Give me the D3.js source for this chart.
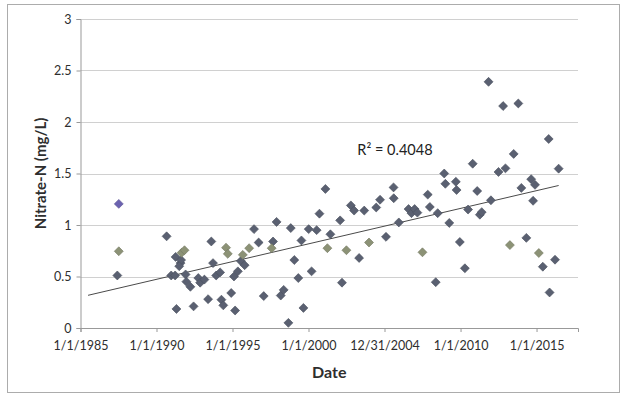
<!DOCTYPE html>
<html>
<head>
<meta charset="utf-8">
<script src="https://cdn.jsdelivr.net/npm/d3@7"></script>
<style>
  body { margin: 0; background: #fff; }
  svg { display: block; }
</style>
</head>
<body>
<div id="chart"></div>
<script>
// sampling dates and nitrate values
const mainDates = [
  '1987-06-05', '1990-09-01', '1990-12-20', '1991-03-25', '1991-04-25', '1991-04-05',
  '1991-08-01', '1991-08-15', '1991-07-01', '1991-12-01', '1991-12-20', '1992-03-25',
  '1992-06-10', '1992-10-01', '1992-11-15', '1993-02-25', '1993-05-25', '1993-08-10',
  '1993-09-20', '1993-12-05', '1994-03-10', '1994-04-10', '1994-05-25', '1994-12-01',
  '1995-03-05', '1995-02-05', '1995-05-10', '1995-07-20', '1995-10-20', '1996-06-01',
  '1996-09-20', '1997-01-20', '1997-09-01', '1997-11-25', '1998-03-05', '1998-05-15',
  '1998-09-05', '1998-11-01', '1999-01-25', '1999-05-01', '1999-07-15', '1999-09-01',
  '2000-01-05', '2000-03-15', '2000-07-15', '2000-09-20', '2001-02-10', '2001-06-10',
  '2002-01-30', '2002-03-15', '2002-10-15', '2003-01-01', '2003-05-01', '2003-09-01',
  '2004-06-15', '2004-09-15', '2005-02-05', '2005-08-05', '2005-08-10', '2005-12-10',
  '2006-08-01', '2006-10-10', '2006-12-25', '2007-03-01', '2007-11-05', '2007-12-25',
  '2008-05-15', '2008-07-01', '2008-12-05', '2009-01-01', '2009-04-05', '2009-09-10',
  '2009-09-28', '2009-12-15', '2010-04-15', '2010-07-01', '2010-10-20', '2011-02-05',
  '2011-04-10', '2011-05-25', '2011-11-05', '2012-01-01', '2012-07-01', '2012-10-20',
  '2012-12-15', '2013-07-01', '2013-10-20', '2014-01-01', '2014-05-01', '2014-08-25',
  '2014-10-10', '2014-11-25', '2015-06-01', '2015-10-20', '2015-11-10', '2016-03-20',
  '2016-06-15'
];
const mainValues = [
  0.51, 0.89, 0.51, 0.51, 0.185, 0.69,
  0.63, 0.66, 0.60, 0.52, 0.45, 0.40,
  0.21, 0.485, 0.44, 0.47, 0.28, 0.84,
  0.63, 0.51, 0.54, 0.275, 0.22, 0.34,
  0.17, 0.50, 0.55, 0.65, 0.61, 0.96,
  0.83, 0.31, 0.84, 1.03, 0.315, 0.37,
  0.05, 0.97, 0.66, 0.485, 0.85, 0.195,
  0.96, 0.55, 0.95, 1.11, 1.35, 0.91,
  1.045, 0.44, 1.19, 1.14, 0.68, 1.14,
  1.17, 1.245, 0.885, 1.365, 1.26, 1.025,
  1.155, 1.115, 1.155, 1.12, 1.295, 1.175,
  0.445, 1.115, 1.50, 1.40, 1.02, 1.42,
  1.34, 0.835, 0.58, 1.15, 1.595, 1.33,
  1.10, 1.125, 2.39, 1.24, 1.515, 2.155,
  1.55, 1.69, 2.18, 1.36, 0.875, 1.445,
  1.235, 1.39, 0.595, 1.835, 0.345, 0.663,
  1.547
];
const oliveDates = [
  '1987-07-10', '1991-08-25', '1991-11-05', '1994-07-30', '1994-09-10', '1995-09-05',
  '1996-02-05', '1997-07-30', '2001-03-30', '2002-06-30', '2003-12-25', '2007-07-01',
  '2013-04-01', '2015-02-25'
];
const oliveValues = [
  0.745, 0.73, 0.755, 0.78, 0.72, 0.71,
  0.775, 0.775, 0.775, 0.755, 0.83, 0.735,
  0.805, 0.728
];
const purpleDates = ['1987-07-10'];
const purpleValues = [1.205];

const xTickLabels = ['1/1/1985', '1/1/1990', '1/1/1995', '1/1/2000', '12/31/2004', '1/1/2010', '1/1/2015'];
const yTickValues = [0, 0.5, 1, 1.5, 2, 2.5, 3];
const xDomain = ['1985-01-01', '2017-09-23'];
const trendStart = '1985-07-01';
const r2Label = 'R\u00b2 = 0.4048';

const width = 623, height = 397;
const margin = { left: 80.5, right: 45, top: 19, bottom: 69 };
const parseIso = d3.timeParse('%Y-%m-%d');
const parseTick = d3.timeParse('%m/%d/%Y');
const font = 'Lato, "Open Sans", sans-serif';

const svg = d3.select('#chart')
  .append('svg')
  .attr('width', width)
  .attr('height', height);

// outer chart frame
svg.append('rect')
  .attr('x', 7.5).attr('y', 4.5)
  .attr('width', 612).attr('height', 388)
  .attr('fill', '#fff')
  .attr('stroke', '#acacac');

const x = d3.scaleTime()
  .domain(xDomain.map(parseIso))
  .range([margin.left, width - margin.right]);
const y = d3.scaleLinear()
  .domain([0, 3])
  .range([height - margin.bottom, margin.top]);

// gridlines
svg.append('g')
  .selectAll('line')
  .data(yTickValues)
  .enter()
  .append('line')
  .attr('x1', x.range()[0])
  .attr('x2', x.range()[1])
  .attr('y1', d => Math.round(y(d)) + 0.5)
  .attr('y2', d => Math.round(y(d)) + 0.5)
  .attr('stroke', '#d0d0d0');

const yAxis = svg.append('g')
  .attr('transform', `translate(${x.range()[0]},0)`)
  .call(d3.axisLeft(y).tickValues(yTickValues).tickFormat(d => String(d)).tickSize(4).tickPadding(5));

const xAxis = svg.append('g')
  .attr('transform', `translate(0,${y(0)})`)
  .call(d3.axisBottom(x)
    .tickValues(xTickLabels.map(parseTick))
    .tickFormat((d, i) => xTickLabels[i])
    .tickSize(4).tickPadding(9));

[yAxis, xAxis].forEach(ax => {
  ax.select('.domain').attr('stroke', '#999');
  ax.selectAll('.tick line').attr('stroke', '#999');
  ax.selectAll('text')
    .attr('fill', '#2e2e2e')
    .style('font-family', font)
    .style('font-size', '12.5px');
});

// trendline, least squares over every point
const allPoints = [];
mainDates.forEach((d, i) => allPoints.push([parseIso(d), mainValues[i]]));
oliveDates.forEach((d, i) => allPoints.push([parseIso(d), oliveValues[i]]));
purpleDates.forEach((d, i) => allPoints.push([parseIso(d), purpleValues[i]]));

const mx = d3.mean(allPoints, p => +p[0]);
const my = d3.mean(allPoints, p => p[1]);
let sxy = 0, sxx = 0;
allPoints.forEach(p => {
  sxy += (+p[0] - mx) * (p[1] - my);
  sxx += (+p[0] - mx) * (+p[0] - mx);
});
const slope = sxy / sxx;
const intercept = my - slope * mx;
const trendEnd = d3.max(allPoints, p => p[0]);
const t0 = parseIso(trendStart);

svg.append('line')
  .attr('x1', x(t0))
  .attr('y1', y(intercept + slope * +t0))
  .attr('x2', x(trendEnd))
  .attr('y2', y(intercept + slope * +trendEnd))
  .attr('stroke', '#4a4a4a')
  .attr('stroke-width', 1);

const diamond = d3.symbol(d3.symbolSquare, 40);

function drawSeries(dates, values, color) {
  svg.append('g')
    .selectAll('path')
    .data(dates.map((d, i) => ({ date: parseIso(d), value: values[i] })))
    .enter()
    .append('path')
    .attr('d', diamond)
    .attr('transform', d => `translate(${x(d.date)},${y(d.value)}) rotate(45)`)
    .attr('fill', color)
    .attr('stroke', d3.color(color).darker(0.5))
    .attr('stroke-width', 0.6);
}

drawSeries(mainDates, mainValues, '#5a6071');
drawSeries(oliveDates, oliveValues, '#8c9276');
drawSeries(purpleDates, purpleValues, '#6b62b0');

svg.append('text')
  .attr('x', x(parseIso('2003-03-20')))
  .attr('y', y(1.675))
  .text(r2Label)
  .style('font-family', font)
  .style('font-size', '14.5px')
  .attr('fill', '#222');

svg.append('text')
  .attr('x', (x.range()[0] + x.range()[1]) / 2)
  .attr('y', 378)
  .attr('text-anchor', 'middle')
  .text('Date')
  .style('font-family', font)
  .style('font-weight', 'bold')
  .style('font-size', '16px')
  .attr('fill', '#2e2e2e');

svg.append('text')
  .attr('transform', `translate(46,${(y.range()[0] + y.range()[1]) / 2}) rotate(-90)`)
  .attr('text-anchor', 'middle')
  .text('Nitrate-N (mg/L)')
  .style('font-family', font)
  .style('font-weight', 'bold')
  .style('font-size', '15px')
  .attr('fill', '#2e2e2e');
</script>
</body>
</html>
